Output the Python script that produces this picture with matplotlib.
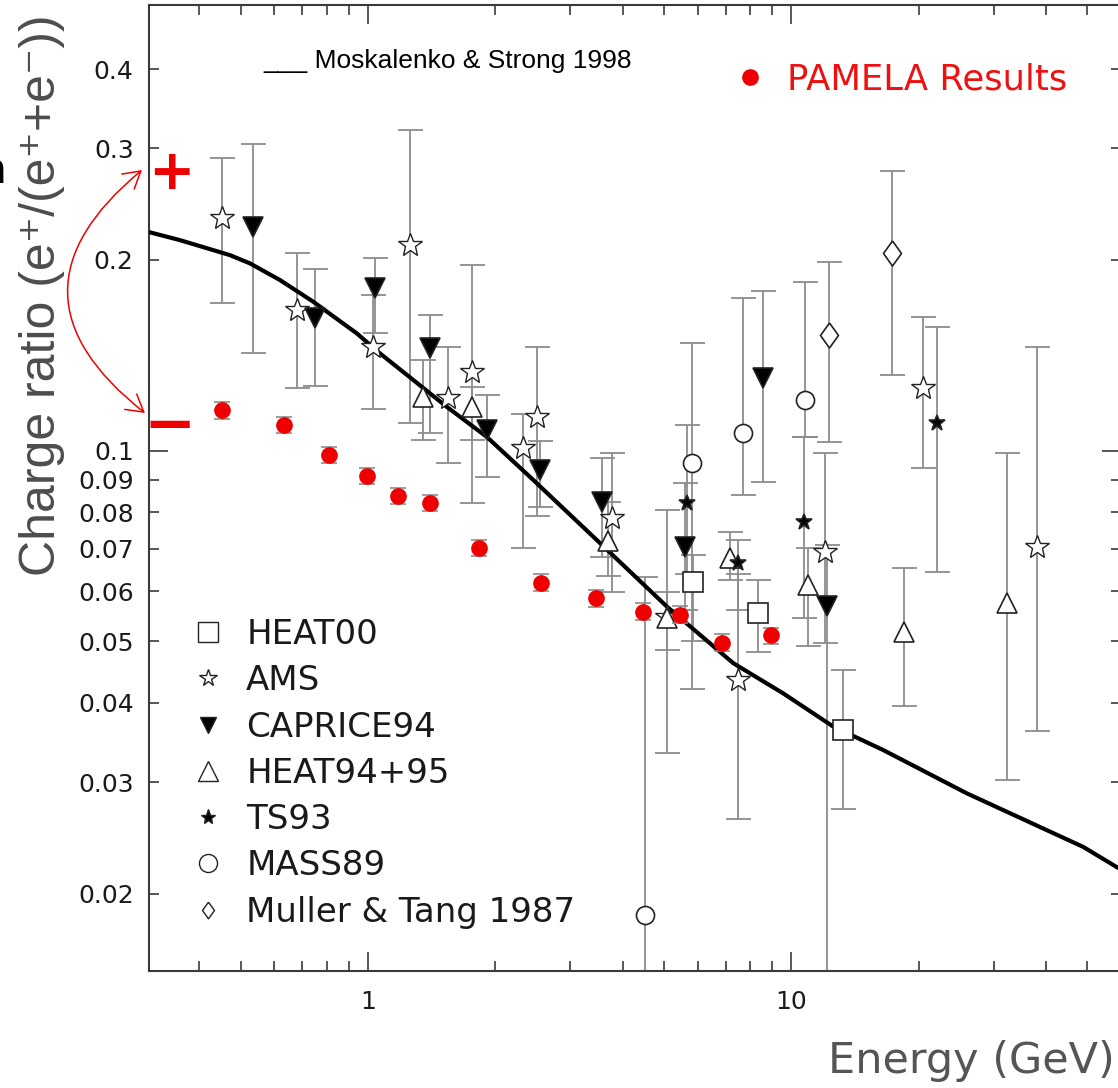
import numpy as np
import matplotlib
matplotlib.use('Agg')
import matplotlib.pyplot as plt
from matplotlib.lines import Line2D
from matplotlib.patches import FancyArrowPatch
from matplotlib import font_manager as fm
from matplotlib.ticker import FixedLocator, FixedFormatter, NullFormatter

# ---------------- data ----------------
model_E = [0.304, 0.3598, 0.4722, 0.5263, 0.6197, 0.7427, 0.9404, 1.0675, 1.279, 1.534,
           1.906, 2.457, 3.530, 5.073, 7.289, 9.564, 12.55, 16.47, 25.93, 48.87, 59.0]
model_R = [0.2213, 0.2149, 0.2035, 0.1975, 0.1859, 0.1718, 0.1532, 0.1424, 0.1293, 0.1173,
           0.1052, 0.0899, 0.0715, 0.0568, 0.0462, 0.0414, 0.0367, 0.0337, 0.0288, 0.0237, 0.02197]

pamela_E = [0.452, 0.633, 0.809, 0.993, 1.177, 1.401, 1.828, 2.562, 3.455, 4.467, 5.454, 6.866, 8.93]
pamela_R = [0.1159, 0.1098, 0.0985, 0.0913, 0.0848, 0.0827, 0.0702, 0.0619, 0.0585, 0.0557, 0.0551, 0.0498, 0.0511]
pamela_err = [0.0035, 0.0033, 0.0030, 0.0027, 0.0025, 0.0025, 0.0021, 0.0019, 0.0018, 0.0017, 0.0017, 0.0015, 0.0015]

heat00_E = [5.86, 8.35, 13.21]
heat00_R = [0.0621, 0.0554, 0.0363]
heat00_lo = [0.0501, 0.0482, 0.0272]
heat00_hi = [0.0685, 0.0625, 0.0451]

ams_E = [0.452, 0.681, 1.026, 1.257, 1.548, 1.764, 2.327, 2.502, 3.779, 5.08, 7.49, 12.0, 20.48, 38.06]
ams_R = [0.2327, 0.1667, 0.1459, 0.2111, 0.1210, 0.1332, 0.1009, 0.1131, 0.0784, 0.0547, 0.0435, 0.0693, 0.1254, 0.0706]
ams_lo = [0.1708, 0.1257, 0.1163, 0.1107, 0.0956, 0.0826, 0.0702, 0.0789, 0.0599, 0.0334, 0.0262, 0.0498, 0.0938, 0.0361]
ams_hi = [0.2900, 0.2048, 0.1759, 0.3205, 0.1459, 0.1963, 0.1141, 0.1459, 0.0991, 0.0806, 0.0640, 0.0991, 0.1626, 0.1457]

caprice_E = [0.536, 0.750, 1.039, 1.401, 1.906, 2.548, 3.562, 5.605, 8.58, 12.15]
caprice_R = [0.2256, 0.1618, 0.1804, 0.1450, 0.1078, 0.0932, 0.0831, 0.0706, 0.1301, 0.0568]
caprice_lo = [0.1428, 0.1265, 0.1533, 0.1065, 0.0910, 0.0816, 0.0680, 0.0561, 0.0894, 0.0100]
caprice_hi = [0.3053, 0.1935, 0.2011, 0.1640, 0.1224, 0.1035, 0.0973, 0.0889, 0.1788, 0.0710]

heat94_E = [1.351, 1.764, 3.694, 5.08, 7.16, 10.96, 18.44, 32.3]
heat94_R = [0.1217, 0.1173, 0.0719, 0.0544, 0.0677, 0.0614, 0.0518, 0.0574]
heat94_lo = [0.1039, 0.1040, 0.0635, 0.0485, 0.0626, 0.0491, 0.0395, 0.0302]
heat94_hi = [0.1390, 0.1262, 0.0831, 0.0598, 0.0745, 0.0702, 0.0652, 0.0991]

ts93_E = [5.655, 7.49, 10.70, 22.02]
ts93_R = [0.0826, 0.0664, 0.0773, 0.1107]
ts93_lo = [0.0640, 0.0560, 0.0545, 0.0644]
ts93_hi = [0.1098, 0.0722, 0.1052, 0.1566]

mass89_E = [4.51, 5.81, 7.68, 10.76]
mass89_R = [0.0185, 0.0955, 0.1065, 0.1202]
mass89_lo = [0.0100, 0.0421, 0.0851, 0.1052]
mass89_hi = [0.0633, 0.1477, 0.1741, 0.1848]

muller_E = [12.29, 17.25]
muller_R = [0.1522, 0.2048]
muller_lo = [0.1033, 0.1316]
muller_hi = [0.1982, 0.2765]

legend_labels = ['HEAT00', 'AMS', 'CAPRICE94', 'HEAT94+95', 'TS93', 'MASS89', 'Muller & Tang 1987']
x_major = [1, 10]
x_major_labels = ['1', '10']
y_major = [0.1]
y_major_labels = ['0.1']
y_minor = [0.02, 0.03, 0.04, 0.05, 0.06, 0.07, 0.08, 0.09, 0.2, 0.3, 0.4]
y_minor_labels = ['0.02', '0.03', '0.04', '0.05', '0.06', '0.07', '0.08', '0.09', '0.2', '0.3', '0.4']
x_minor = [0.4, 0.5, 0.6, 0.7, 0.8, 0.9, 2, 3, 4, 5, 6, 7, 8, 9, 20, 30, 40, 50]

# ---------------- figure ----------------
W, H = 1118, 1088
fig = plt.figure(figsize=(W / 100, H / 100), dpi=100)
fig.patch.set_facecolor('white')

def fx(px):
    return px / W

def fy(py):
    return 1 - py / H

ax = fig.add_axes([fx(149), fy(971), 972 / W, 966 / H])
ax.set_xscale('log')
ax.set_yscale('log')
ax.set_xlim(0.304, 60)
ax.set_ylim(0.0151, 0.505)

spine_c = '#3a3a3a'
for s in ax.spines.values():
    s.set_color(spine_c)
    s.set_linewidth(1.5)

ax.xaxis.set_major_locator(FixedLocator(x_major))
ax.xaxis.set_major_formatter(FixedFormatter(x_major_labels))
ax.xaxis.set_minor_locator(FixedLocator(x_minor))
ax.xaxis.set_minor_formatter(NullFormatter())
ax.yaxis.set_major_locator(FixedLocator(y_major))
ax.yaxis.set_major_formatter(FixedFormatter(y_major_labels))
ax.yaxis.set_minor_locator(FixedLocator(y_minor))
ax.yaxis.set_minor_formatter(FixedFormatter(y_minor_labels))

ax.tick_params(which='both', direction='in', top=True, right=True, color=spine_c,
               width=1.2, labelsize=18, labelcolor='#1a1a1a')
ax.tick_params(which='major', length=13.5)
ax.tick_params(which='minor', length=7)
ax.tick_params(axis='x', which='both', pad=14)
ax.tick_params(axis='y', which='both', pad=11)

err_c = '#8c8c8c'
edge_c = '#222222'
fat_diamond = [(0, 1), (0.72, 0), (0, -1), (-0.72, 0), (0, 1)]

def series(E, R, lo, hi, marker, ms, mfc, mew=1.2):
    E = np.array(E); R = np.array(R); lo = np.array(lo); hi = np.array(hi)
    ax.errorbar(E, R, yerr=[R - lo, hi - R], fmt='none', ecolor=err_c,
                elinewidth=1.3, capsize=9, capthick=1.3, zorder=2)
    ax.plot(E, R, ls='none', marker=marker, ms=ms, mfc=mfc, mec=edge_c, mew=mew, zorder=4)

series(heat00_E, heat00_R, heat00_lo, heat00_hi, 's', 14, 'white')
series(ams_E, ams_R, ams_lo, ams_hi, '*', 18, 'white', 1.0)
series(caprice_E, caprice_R, caprice_lo, caprice_hi, 'v', 14, 'black')
series(heat94_E, heat94_R, heat94_lo, heat94_hi, '^', 15, 'white')
series(ts93_E, ts93_R, ts93_lo, ts93_hi, '*', 12, 'black')
series(mass89_E, mass89_R, mass89_lo, mass89_hi, 'o', 13, 'white')
series(muller_E, muller_R, muller_lo, muller_hi, fat_diamond, 18, 'white')

ax.plot(model_E, model_R, color='black', lw=3.0, zorder=3, solid_capstyle='round')

ax.errorbar(pamela_E, pamela_R, yerr=pamela_err, fmt='o', ms=11, mfc='#ee0000', mec='#ee0000',
            ecolor=err_c, elinewidth=1.0, capsize=5.5, capthick=1.2, zorder=5)

# legend of experiments
handles = [
    Line2D([], [], ls='none', marker='s', ms=14, mfc='white', mec=edge_c, mew=1.0),
    Line2D([], [], ls='none', marker='*', ms=13, mfc='white', mec=edge_c, mew=1.0),
    Line2D([], [], ls='none', marker='v', ms=12, mfc='black', mec=edge_c),
    Line2D([], [], ls='none', marker='^', ms=14, mfc='white', mec=edge_c, mew=1.0),
    Line2D([], [], ls='none', marker='*', ms=11, mfc='black', mec=edge_c),
    Line2D([], [], ls='none', marker='o', ms=13, mfc='white', mec=edge_c, mew=1.0),
    Line2D([], [], ls='none', marker=fat_diamond, ms=12, mfc='white', mec=edge_c, mew=1.0),
]
leg = ax.legend(handles, legend_labels, loc='upper left',
                bbox_to_anchor=(fx(191), fy(618)), bbox_transform=fig.transFigure,
                frameon=False, fontsize=24.5, handlelength=1.0, handletextpad=0.62,
                labelspacing=0.39, borderpad=0, borderaxespad=0)
for t in leg.get_texts():
    t.set_color('#1a1a1a')
ax.add_artist(leg)

leg2 = ax.legend([Line2D([], [], ls='none', marker='o', ms=11, mfc='#ee0000', mec='#ee0000')],
                 ['PAMELA Results'], loc='upper left',
                 bbox_to_anchor=(fx(732), fy(62)), bbox_transform=fig.transFigure,
                 frameon=False, fontsize=25.5, handlelength=1.0, handletextpad=0.54,
                 borderpad=0, borderaxespad=0)
for t in leg2.get_texts():
    t.set_color('#ee1111')

# model label
names = {f.name for f in fm.fontManager.ttflist}
if 'Liberation Sans Narrow' in names:
    fig.text(fx(263), fy(68), '___ Moskalenko & Strong 1998', fontsize=23,
             family='Liberation Sans Narrow', color='black', va='baseline', ha='left')
else:
    fig.text(fx(263), fy(68), '___ Moskalenko & Strong 1998', fontsize=19,
             family='Liberation Sans', color='black', va='baseline', ha='left')

# axis labels
fig.text(fx(55), fy(295), 'Charge ratio (e\u207a/(e\u207a+e\u207b))', rotation=90,
         rotation_mode='anchor', ha='center', va='baseline', fontsize=36,
         family=['Liberation Sans', 'DejaVu Sans'], color='#4d4d4d')
fig.text(fx(828), fy(1073), 'Energy (GeV)', ha='left', va='baseline', fontsize=31,
         family='DejaVu Sans', color='#555555')

# fragment of a cut-off word at the left edge (as in the reference)
fig.text(fx(6), fy(183), 'n', ha='right', va='baseline', fontsize=30, fontweight='bold',
         color='black')

# red charge signs and arrow
fig.text(fx(171), fy(189), '+', ha='center', va='baseline', fontsize=40, fontweight='bold',
         color='#ee0000')
fig.text(fx(169.5), fy(444.5), '\u2212', ha='center', va='baseline', fontsize=45,
         fontweight='bold', color='#ee0000')
arr = FancyArrowPatch((fx(145), fy(413)), (fx(142), fy(170)), transform=fig.transFigure,
                      connectionstyle='arc3,rad=-0.62',
                      arrowstyle='<->,head_length=0.6,head_width=0.35',
                      mutation_scale=20, color='#ee0000', lw=1.1, shrinkA=0, shrinkB=0)
fig.patches.append(arr)

fig.savefig('out.png', dpi=100, facecolor='white')
